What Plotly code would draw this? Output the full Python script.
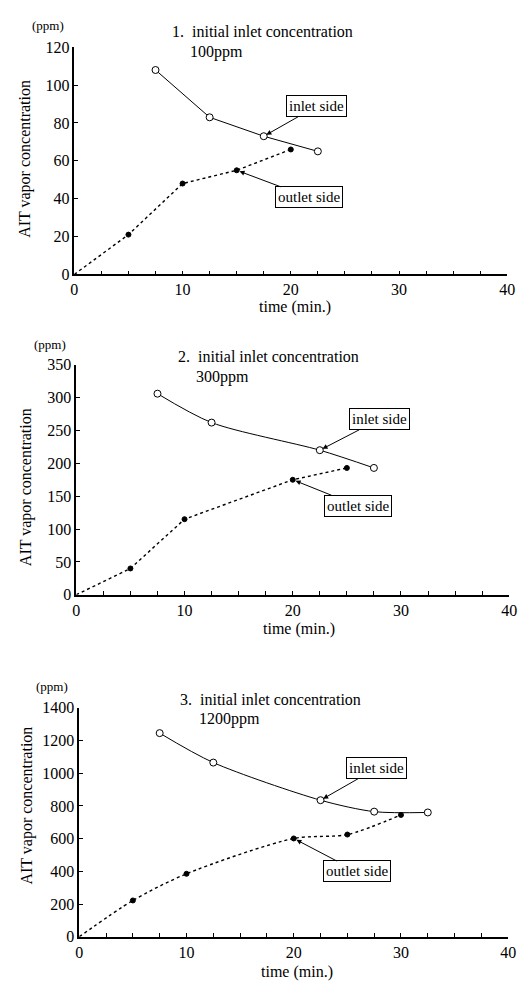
import plotly.graph_objects as go

W, H = 526, 990

# ---------------- data ----------------
inlet_t_1 = [7.5, 12.5, 17.5, 22.5]
inlet_1 = [108, 83, 73, 65]
outlet_t_1 = [0, 5, 10, 15, 20]
outlet_1 = [0, 21, 48, 55, 66]

inlet_t_2 = [7.5, 12.5, 22.5, 27.5]
inlet_2 = [306, 262, 220, 193]
outlet_t_2 = [0, 5, 10, 20, 25]
outlet_2 = [0, 40, 115, 175, 193]

inlet_t_3 = [7.5, 12.5, 22.5, 27.5, 32.5]
inlet_3 = [1245, 1065, 835, 765, 760]
outlet_t_3 = [0, 5, 10, 20, 25, 30]
outlet_3 = [0, 222, 385, 601, 625, 745]

x_range = [0, 40]
y_max = [120, 350, 1400]
y_step = [20, 50, 200]
titles = ["1.  initial inlet concentration",
          "2.  initial inlet concentration",
          "3.  initial inlet concentration"]
subtitles = ["100ppm", "300ppm", "1200ppm"]
x_title = "time (min.)"
y_title = "AIT vapor concentration"
y_unit = "(ppm)"
inlet_label = "inlet side"
outlet_label = "outlet side"

# ---------------- layout geometry (pixels) ----------------
panels = [
    dict(x0=72, x1=515, y0=40, y1=271),
    dict(x0=74, x1=517, y0=363, y1=597),
    dict(x0=77, x1=516, y0=712, y1=945),
]
title_pos = [(170, 24, 188, 45), (176, 355, 194, 375), (178, 704, 197, 723)]
unit_pos = [(45, 18), (47, 342), (49, 690)]
ytitle_pos = [(22, 153), (22, 487), (24, 811)]
xtitle_pos = [(298, 304), (302, 632), (300, 981)]
inlet_arrow = [(53, -30), (60, -31), (56, -32)]
outlet_arrow = [(72, 27), (65, 26), (63, 33)]
inlet_spline = [False, True, True]
outlet_spline = [False, False, True]

SERIF = "Liberation Serif, Times New Roman, serif"


def px(x):
    return x / W


def py(y):
    return 1 - y / H


series = [
    (inlet_t_1, inlet_1, outlet_t_1, outlet_1),
    (inlet_t_2, inlet_2, outlet_t_2, outlet_2),
    (inlet_t_3, inlet_3, outlet_t_3, outlet_3),
]

fig = go.Figure()
annotations = []
layout = {}

for i, (it, iv, ot, ov) in enumerate(series):
    n = i + 1
    xa = "x" if n == 1 else f"x{n}"
    ya = "y" if n == 1 else f"y{n}"
    p = panels[i]

    # outlet (dotted line)
    fig.add_trace(go.Scatter(
        x=ot, y=ov, xaxis=xa, yaxis=ya, mode="lines",
        line=dict(color="black", width=1.4, dash="dot",
                  shape="spline" if outlet_spline[i] else "linear", smoothing=0.8),
        showlegend=False, cliponaxis=False, hoverinfo="skip",
    ))
    # outlet measured points (filled dots; origin has no marker)
    fig.add_trace(go.Scatter(
        x=ot[1:], y=ov[1:], xaxis=xa, yaxis=ya, mode="markers",
        marker=dict(symbol="circle", size=5, color="black",
                    line=dict(color="black", width=1)),
        showlegend=False, cliponaxis=False,
    ))
    # inlet (solid, open circles)
    fig.add_trace(go.Scatter(
        x=it, y=iv, xaxis=xa, yaxis=ya, mode="lines+markers",
        line=dict(color="black", width=1,
                  shape="spline" if inlet_spline[i] else "linear", smoothing=0.8),
        marker=dict(symbol="circle", size=7, color="white",
                    line=dict(color="black", width=1)),
        showlegend=False, cliponaxis=False,
    ))

    axis_common = dict(
        showline=True, linecolor="black", linewidth=1.5, mirror=False,
        showgrid=False, zeroline=False, ticks="inside", ticklen=4,
        tickcolor="black", tickwidth=1,
        tickfont=dict(family=SERIF, size=16, color="black"),
    )
    layout["xaxis" if n == 1 else f"xaxis{n}"] = dict(
        axis_common, domain=[px(p["x0"]), px(p["x1"])], range=x_range,
        tick0=0, dtick=10, anchor=ya,
        minor=dict(dtick=2.5, ticks="inside", ticklen=4, tickcolor="black", showgrid=False),
    )
    layout["yaxis" if n == 1 else f"yaxis{n}"] = dict(
        axis_common, domain=[py(p["y1"]), py(p["y0"])], range=[0, y_max[i]],
        tick0=0, dtick=y_step[i], anchor=xa,
    )

    # titles
    tx, ty, sx, sy = title_pos[i]
    annotations.append(dict(text=titles[i], xref="paper", yref="paper",
                            x=px(tx), y=py(ty), xanchor="left", yanchor="middle",
                            showarrow=False, font=dict(family=SERIF, size=16, color="black")))
    annotations.append(dict(text=subtitles[i], xref="paper", yref="paper",
                            x=px(sx), y=py(sy), xanchor="left", yanchor="middle",
                            showarrow=False, font=dict(family=SERIF, size=16, color="black")))
    ux, uy = unit_pos[i]
    annotations.append(dict(text=y_unit, xref="paper", yref="paper",
                            x=px(ux), y=py(uy), xanchor="center", yanchor="middle",
                            showarrow=False, font=dict(family=SERIF, size=13, color="black")))
    yx, yy = ytitle_pos[i]
    annotations.append(dict(text=y_title, xref="paper", yref="paper", textangle=-90,
                            x=px(yx), y=py(yy), xanchor="center", yanchor="middle",
                            showarrow=False, font=dict(family=SERIF, size=16, color="black")))
    xx, xy = xtitle_pos[i]
    annotations.append(dict(text=x_title, xref="paper", yref="paper",
                            x=px(xx), y=py(xy), xanchor="center", yanchor="middle",
                            showarrow=False, font=dict(family=SERIF, size=16, color="black")))

    # labelled arrows
    box = dict(showarrow=True, arrowhead=2, arrowsize=1, arrowwidth=1,
               arrowcolor="black", standoff=3, bordercolor="black", borderwidth=1,
               borderpad=2, bgcolor="white",
               font=dict(family=SERIF, size=15, color="black"),
               xref=xa, yref=ya, axref="pixel", ayref="pixel")
    ax_, ay_ = inlet_arrow[i]
    annotations.append(dict(box, text=inlet_label, x=it[2], y=iv[2], ax=ax_, ay=ay_))
    ax_, ay_ = outlet_arrow[i]
    annotations.append(dict(box, text=outlet_label, x=ot[3], y=ov[3], ax=ax_, ay=ay_))

fig.update_layout(
    width=W, height=H, margin=dict(l=0, r=0, t=0, b=0),
    paper_bgcolor="white", plot_bgcolor="white",
    annotations=annotations, **layout,
)

fig.write_html("out.html")
